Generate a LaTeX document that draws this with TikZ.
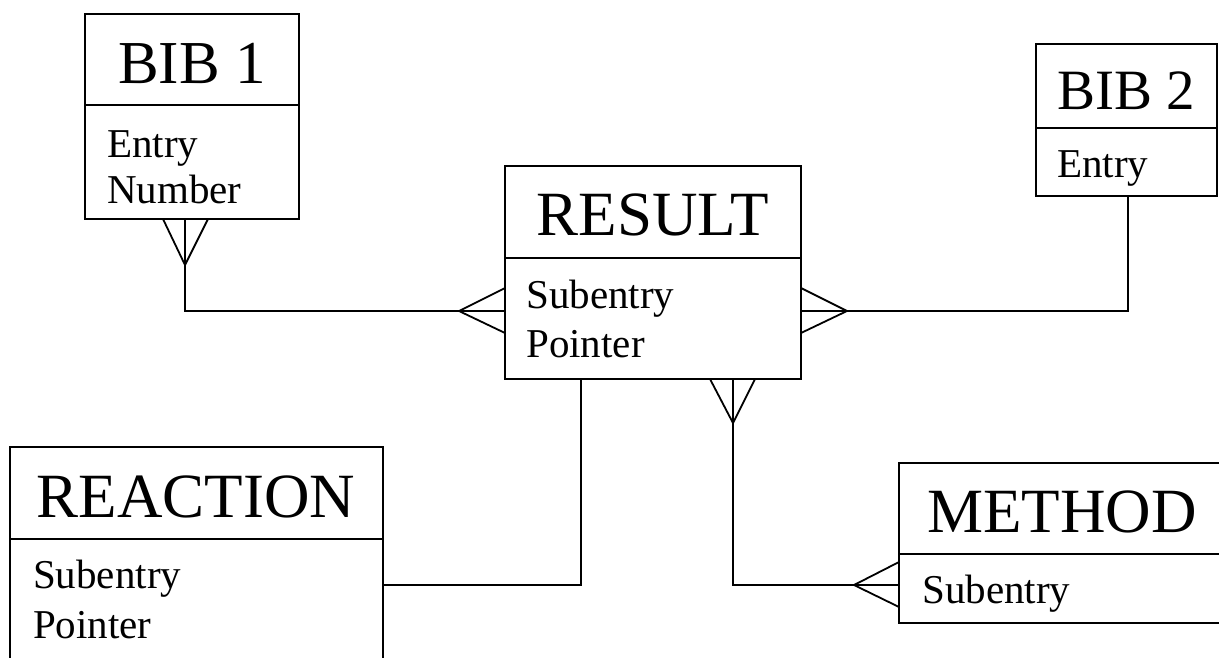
\documentclass[tikz,border=0pt]{standalone}
\usepackage{fontspec}
\setmainfont{Liberation Serif}
\usetikzlibrary{calc}
\tikzset{
  box/.style={draw, line width=1.8pt, inner sep=0pt, outer sep=0pt, anchor=north west},
  conn/.style={line width=1.8pt, line join=miter},
  ttl/.style={anchor=base, inner sep=0pt, font=\fontsize{63}{70}\selectfont},
  att/.style={anchor=base west, inner sep=0pt, font=\fontsize{41}{48}\selectfont}
}
\begin{document}
\begin{tikzpicture}[x=1pt,y=-1pt]
\useasboundingbox (0,0) rectangle (1219,657);
\clip (0,0) rectangle (1219,657);
\fill[white] (0,0) rectangle (1219,657);
% boxes
\node[box, minimum width=214pt, minimum height=91pt] (b1t) at (85,14) {};
\node[box, minimum width=214pt, minimum height=114pt] (b1a) at (85,105) {};
\node[box, minimum width=181pt, minimum height=84pt] (b2t) at (1036,44) {};
\node[box, minimum width=181pt, minimum height=68pt] (b2a) at (1036,128) {};
\node[box, minimum width=296pt, minimum height=92pt] (rest) at (505,166) {};
\node[box, minimum width=296pt, minimum height=121pt] (resa) at (505,258) {};
\node[box, minimum width=373pt, minimum height=92pt] (rxt) at (10,447) {};
\node[box, minimum width=373pt, minimum height=140pt] (rxa) at (10,539) {};
\node[box, minimum width=340pt, minimum height=91pt] (mtt) at (899,463) {};
\node[box, minimum width=340pt, minimum height=69pt] (mta) at (899,554) {};
% texts
\node[ttl, font=\fontsize{61}{70}\selectfont] (b1tx) at (192,83) {BIB 1};
\node[att] (b1e) at (107,157) {Entry};
\node[att] (b1n) at (107,203) {Number};
\node[ttl, font=\fontsize{57}{66}\selectfont] (b2tx) at (1126,109) {BIB 2};
\node[att] (b2e) at (1057,177) {Entry};
\node[ttl] (restx) at (653,235) {RESULT};
\node[att] (ress) at (526,308) {Subentry};
\node[att] (resp) at (526,357) {Pointer};
\node[ttl] (rxtx) at (196,517) {REACTION};
\node[att] (rxs) at (33,588) {Subentry};
\node[att] (rxp) at (33,638) {Pointer};
\node[ttl] (mttx) at (1062,532) {METHOD};
\node[att] (mts) at (922,603) {Subentry};
% connector points
\coordinate (c1) at ($(b1a.south west)+(100,0)$);
\coordinate (c2) at ($(resa.north west)+(0,53)$);
\coordinate (c3) at ($(resa.north east)+(0,53)$);
\coordinate (c4) at ($(b2a.south west)+(92,0)$);
\coordinate (c5) at ($(resa.south west)+(76,0)$);
\coordinate (c6) at ($(rxa.north east)+(0,46)$);
\coordinate (c7) at ($(resa.south west)+(228,0)$);
\coordinate (c8) at ($(mta.north west)+(0,31)$);
% BIB1 -- RESULT
\draw[conn] (c1) |- (c2);
\draw[conn] ($(c1)+(-22,0)$) -- ($(c1)+(0,46)$) -- ($(c1)+(23,0)$);
\draw[conn] ($(c2)+(0,-23)$) -- ($(c2)+(-46,0)$) -- ($(c2)+(0,22)$);
% RESULT -- BIB2
\draw[conn] (c3) -| (c4);
\draw[conn] ($(c3)+(0,-23)$) -- ($(c3)+(46,0)$) -- ($(c3)+(0,22)$);
% RESULT -- REACTION
\draw[conn] (c5) |- (c6);
% RESULT -- METHOD
\draw[conn] (c7) |- (c8);
\draw[conn] ($(c7)+(-23,0)$) -- ($(c7)+(0,44)$) -- ($(c7)+(22,0)$);
\draw[conn] ($(c8)+(0,-23)$) -- ($(c8)+(-45,0)$) -- ($(c8)+(0,22)$);
\end{tikzpicture}
\end{document}
